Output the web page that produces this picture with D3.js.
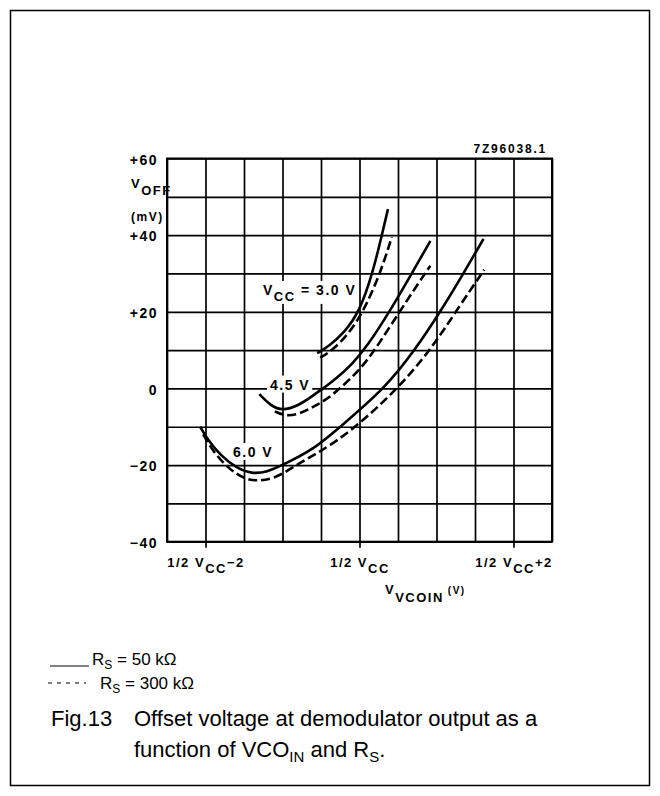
<!DOCTYPE html>
<html>
<head>
<meta charset="utf-8">
<style>
  body { margin: 0; background: #fff; }
  svg { display: block; }
  .chart text { font-family: "Liberation Sans", Arial, sans-serif; font-weight: bold; fill: #000; letter-spacing: 1.5px; }
  .notes text { font-family: "Liberation Sans", Arial, sans-serif; fill: #000; }
</style>
</head>
<body>
<svg id="container" width="660" height="796">
  <rect x="10.5" y="10.5" width="639" height="775" fill="none" stroke="#000" stroke-width="1.5"></rect>
  <g id="chart" class="chart"></g>
  <g id="notes" class="notes"></g>
</svg>
<script src="https://cdn.jsdelivr.net/npm/d3@7"></script>
<script>
// ticks
let xGrid = d3.range(-2.5, 2.51, 0.5)
let yGrid = d3.range(-40, 61, 10)
let yTicks = [-40, -20, 0, 20, 40, 60]
let xTicks = [-2, 0, 2]
let xTickLabels = [["1/2 V", "CC", "\u22122"], ["1/2 V", "CC", ""], ["1/2 V", "CC", "+2"]]

// curves, [V relative to 1/2 Vcc, mV]
let vcc30Solid = [[-0.55, 9.2], [-0.4, 11], [-0.2, 14.5], [0, 20], [0.17, 30], [0.29, 40], [0.37, 46.8]]
let vcc30Dashed = [[-0.51, 8], [-0.35, 10], [-0.15, 14], [0.05, 20], [0.27, 30], [0.42, 39.5]]
let vcc45Solid = [[-1.3, -1.5], [-1.15, -4.6], [-1.0, -5.8], [-0.8, -4.6], [-0.6, -1.8], [-0.47, 0], [-0.3, 2.6], [-0.1, 6.2], [0.1, 11], [0.39, 20], [0.68, 30], [0.92, 38.5]]
let vcc45Dashed = [[-1.1, -6], [-0.95, -7.3], [-0.77, -6.6], [-0.6, -4.8], [-0.45, -3.2], [-0.25, 0], [0, 4.8], [0.2, 10], [0.52, 20], [0.75, 27], [0.92, 32]]
let vcc60Solid = [[-2.07, -10], [-1.95, -14], [-1.8, -17.5], [-1.6, -20.8], [-1.4, -22.3], [-1.2, -21.8], [-1.0, -20], [-0.6, -16], [-0.25, -10], [0.33, 0], [0.72, 10], [1.05, 20], [1.35, 30], [1.61, 39]]
let vcc60Dashed = [[-2.03, -12], [-1.9, -16.5], [-1.7, -21], [-1.5, -23.5], [-1.35, -24.2], [-1.1, -23.6], [-0.82, -20], [-0.6, -17.5], [-0.38, -14.8], [-0.04, -10], [0.5, 0], [0.92, 10], [1.25, 20], [1.62, 31]]

let x = d3.scaleLinear().domain([-2.5, 2.5]).range([167, 552])
let y = d3.scaleLinear().domain([-40, 60]).range([541.7, 158.5])
let chart = d3.select("#chart")

// grid
let gx = chart.append("g")
  .attr("transform", "translate(0," + y(-40) + ")")
  .call(d3.axisBottom(x).tickValues(xGrid).tickSize(-(y(-40) - y(60))).tickFormat(""))
gx.select(".domain").remove()
gx.selectAll("line").attr("stroke", "#000").attr("stroke-width", 1.7)

let gy = chart.append("g")
  .attr("transform", "translate(" + x(-2.5) + ",0)")
  .call(d3.axisLeft(y).tickValues(yGrid).tickSize(-(x(2.5) - x(-2.5))).tickFormat(""))
gy.select(".domain").remove()
gy.selectAll("line").attr("stroke", "#000").attr("stroke-width", 1.7)

chart.append("rect")
  .attr("x", x(-2.5)).attr("y", y(60))
  .attr("width", x(2.5) - x(-2.5)).attr("height", y(-40) - y(60))
  .attr("fill", "none").attr("stroke", "#000").attr("stroke-width", 2)

// y tick labels
let yAxis = chart.append("g")
  .attr("transform", "translate(" + x(-2.5) + ",0)")
  .call(d3.axisLeft(y).tickValues(yTicks).tickSize(0).tickPadding(9)
    .tickFormat(d => d > 0 ? "+" + d : d < 0 ? "\u2212" + (-d) : "0"))
yAxis.select(".domain").remove()
yAxis.selectAll("text").attr("font-size", 14).attr("font-family", null).attr("dy", "0.4em")

// x ticks
let xAxis = chart.append("g")
  .attr("transform", "translate(0," + y(-40) + ")")
  .call(d3.axisBottom(x).tickValues(xTicks).tickSize(6).tickFormat(""))
xAxis.select(".domain").remove()
xAxis.selectAll("line").attr("stroke", "#000").attr("stroke-width", 1.7)
xAxis.selectAll(".tick text").remove()
xAxis.selectAll(".tick").each(function (d, i) {
  let t = d3.select(this).append("text")
    .attr("y", 25).attr("text-anchor", "middle").attr("font-size", 13)
  let parts = xTickLabels[i]
  t.append("tspan").text(parts[0])
  t.append("tspan").attr("dy", 6).attr("font-size", 13).text(parts[1])
  t.append("tspan").attr("dy", -6).text(parts[2])
})

// axis titles
let yt = chart.append("text").attr("x", 131).attr("y", 188).attr("font-size", 13)
yt.append("tspan").text("V")
yt.append("tspan").attr("dy", 7).attr("font-size", 13).text("OFF")
chart.append("text").attr("x", 131).attr("y", 221).attr("font-size", 12).text("(mV)")

let xt = chart.append("text").attr("x", 385).attr("y", 594).attr("font-size", 13)
xt.append("tspan").text("V")
xt.append("tspan").attr("dy", 8).text("VCOIN")
xt.append("tspan").attr("dy", -8).attr("dx", 4).attr("font-size", 10).text("(V)")

chart.append("text").attr("x", x(2.5) - 5).attr("y", 153).attr("text-anchor", "end")
  .attr("font-size", 12).style("letter-spacing", "1.8px").text("7Z96038.1")

// curve labels with white backing
function curveLabel(vx, vy, parts) {
  let g = chart.append("g")
  let bg = g.append("rect").attr("fill", "#fff")
  let t = g.append("text").attr("x", x(vx)).attr("y", y(vy)).attr("font-size", 14)
  parts.forEach(p => t.append("tspan").attr("dy", p[1]).attr("font-size", p[2] || 14).text(p[0]))
  let b = t.node().getBBox()
  bg.attr("x", b.x - 3).attr("y", b.y - 1).attr("width", b.width + 5).attr("height", b.height + 1)
}
curveLabel(-1.253, 24.4, [["V", 0], ["CC", 6, 13], [" = 3.0 V", -6]])
curveLabel(-1.162, -0.3, [["4.5 V", 0]])
curveLabel(-1.643, -17.9, [["6.0 V", 0]])

// curves
let line = d3.line().x(d => x(d[0])).y(d => y(d[1])).curve(d3.curveBasis)
let series = [
  [vcc30Solid, null], [vcc30Dashed, "9,4"],
  [vcc45Solid, null], [vcc45Dashed, "9,4"],
  [vcc60Solid, null], [vcc60Dashed, "9,4"]
]
chart.selectAll("path.curve").data(series).enter().append("path")
  .attr("class", "curve")
  .attr("d", d => line(d[0]))
  .attr("fill", "none").attr("stroke", "#000").attr("stroke-width", 2.6)
  .attr("stroke-dasharray", d => d[1])

// legend + caption
let notes = d3.select("#notes")
notes.append("line").attr("x1", 50).attr("x2", 89).attr("y1", 666).attr("y2", 666)
  .attr("stroke", "#000").attr("stroke-width", 1)
let l1 = notes.append("text").attr("x", 92).attr("y", 665).attr("font-size", 17)
l1.append("tspan").text("R")
l1.append("tspan").attr("dy", 4).attr("font-size", 12).text("S")
l1.append("tspan").attr("dy", -4).text(" = 50 k\u03A9")

notes.append("line").attr("x1", 48).attr("x2", 86).attr("y1", 683).attr("y2", 683)
  .attr("stroke", "#000").attr("stroke-width", 1).attr("stroke-dasharray", "4,5")
let l2 = notes.append("text").attr("x", 100).attr("y", 689).attr("font-size", 17)
l2.append("tspan").text("R")
l2.append("tspan").attr("dy", 4).attr("font-size", 12).text("S")
l2.append("tspan").attr("dy", -4).text(" = 300 k\u03A9")

notes.append("text").attr("x", 51).attr("y", 726).attr("font-size", 22).text("Fig.13")
notes.append("text").attr("x", 134).attr("y", 726).attr("font-size", 22)
  .text("Offset voltage at demodulator output as a")
let c2 = notes.append("text").attr("x", 134).attr("y", 757).attr("font-size", 22)
c2.append("tspan").text("function of VCO")
c2.append("tspan").attr("dy", 5).attr("font-size", 15).text("IN")
c2.append("tspan").attr("dy", -5).text(" and R")
c2.append("tspan").attr("dy", 5).attr("font-size", 15).text("S")
c2.append("tspan").attr("dy", -5).text(".")
</script>
</body>
</html>
